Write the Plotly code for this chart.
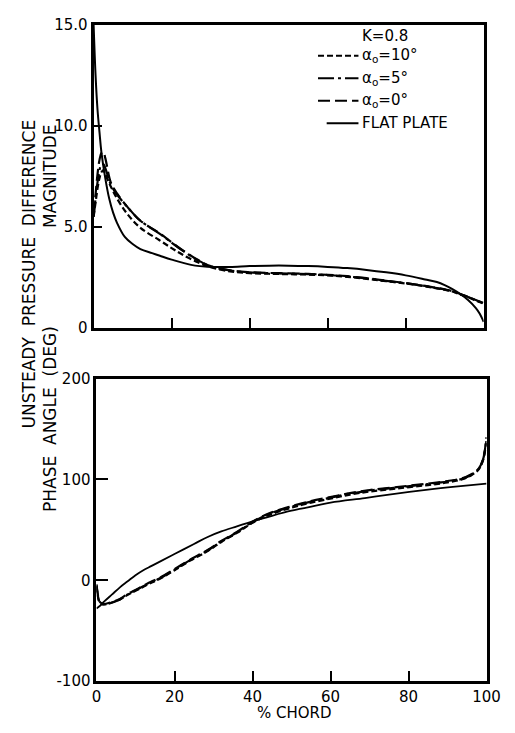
import plotly.graph_objects as go

# ---------------- data ----------------
# Magnitude panel
mag_x_fp = [0, 0.5, 1.0, 1.5, 2.0, 3.0, 4.0, 5.0, 6.0, 8.0, 10, 12, 15, 17, 20, 25, 30, 35, 40, 45, 50,
            55, 60, 65, 70, 75, 80, 85, 88, 90, 92, 94, 96, 98, 99, 100]
mag_fp = [15.0, 12.5, 10.8, 9.7, 8.7, 7.4, 6.4, 5.7, 5.2, 4.5, 4.15, 3.9, 3.7, 3.57, 3.38, 3.12, 3.02, 3.02,
          3.06, 3.08, 3.08, 3.06, 3.02, 2.96, 2.87, 2.75, 2.6, 2.4, 2.27, 2.12, 1.92, 1.68, 1.38, 0.98, 0.7, 0.3]

mag_x_af = [0, 0.5, 1.0, 1.5, 2.0, 2.5, 3.0, 4.4, 6.0, 8.6, 12, 16.8, 20, 23, 26.7, 30, 35, 40, 45, 50, 55,
            60, 65, 70, 75, 80, 85, 88, 90, 92, 94, 96, 98, 100]
mag_a10 = [5.5, 6.2, 6.9, 7.4, 7.7, 7.8, 7.6, 7.0, 6.4, 5.65, 4.95, 4.35, 3.95, 3.6, 3.25, 3.0, 2.8, 2.71,
           2.68, 2.66, 2.64, 2.6, 2.53, 2.43, 2.31, 2.2, 2.06, 1.96, 1.89, 1.8, 1.66, 1.52, 1.36, 1.2]
mag_a5 = [5.5, 6.4, 7.2, 7.8, 8.1, 8.1, 7.9, 7.1, 6.6, 6.0, 5.3, 4.68, 4.22, 3.8, 3.35, 3.05, 2.84, 2.75,
          2.71, 2.69, 2.66, 2.62, 2.55, 2.45, 2.33, 2.21, 2.07, 1.97, 1.9, 1.81, 1.67, 1.53, 1.37, 1.22]
mag_a0 = [5.6, 6.6, 7.6, 8.3, 8.65, 8.7, 8.4, 7.2, 6.65, 6.0, 5.3, 4.7, 4.24, 3.82, 3.37, 3.06, 2.85, 2.76,
          2.72, 2.7, 2.67, 2.63, 2.56, 2.46, 2.34, 2.22, 2.08, 1.98, 1.91, 1.82, 1.68, 1.54, 1.38, 1.24]

# Phase panel
ph_x_fp = [0, 1, 2, 4, 6, 8, 10, 12, 14, 16, 20, 25, 28.5, 32, 36, 40, 45, 50, 52.5, 60, 68.8, 75, 85,
           92, 100]
ph_fp = [-28, -25, -21, -14, -7, -1, 5, 10, 14, 18, 26, 36, 43, 48.5, 53.5, 58.5, 64, 69, 71, 77, 81.5,
         85, 90, 93, 96]

ph_x_af = [0, 0.3, 0.6, 1, 2, 4, 6, 8, 10, 12, 14, 16, 20, 24, 28.5, 32, 36, 40, 44, 50, 55, 60.6, 65,
           70, 77, 85, 90, 93.6, 96, 98, 99, 99.6, 100]
ph_a10 = [-6, -15, -20, -23, -24, -22, -19, -14.5, -10.5, -6.5, -2.5, 1, 10, 19.5, 29, 38, 47, 57, 64.5,
          72, 77, 81.5, 85, 88, 91, 94.5, 97, 100, 104, 110, 118, 128, 140]
ph_a5 = [-5, -14, -20, -23, -24, -22, -19, -14, -10, -6, -2, 1.5, 10.5, 20, 29.5, 38.5, 47.5, 57.5, 65.5,
         73, 78, 82.5, 86, 89, 92, 95.5, 98, 100.5, 104.5, 110.5, 118.5, 129, 141]
ph_a0 = [-4, -13, -19, -22, -23.5, -21.5, -18.5, -13.5, -9.5, -5.5, -1.5, 2, 11, 20.5, 30, 39, 48, 58, 66,
         73.5, 78.5, 83, 86.5, 89.5, 92.5, 96, 98.5, 101, 105, 111, 119, 130, 142]

mag_ticks = [0, 5, 10, 15]
mag_ticktext = ["0", "5.0", "10.0", "15.0"]
ph_ticks = [-100, 0, 100, 200]
ph_ticktext = ["-100", "0", "100", "200"]
x_ticks = [0, 20, 40, 60, 80, 100]
x_ticktext = ["0", "20", "40", "60", "80", "100"]

series = [
    ("α<sub>o</sub>=10°", "6px,3px", mag_a10, ph_a10),
    ("α<sub>o</sub>=5°", "16px,4px,3px,4px", mag_a5, ph_a5),
    ("α<sub>o</sub>=0°", "12px,5px", mag_a0, ph_a0),
]

# ---------------- figure ----------------
W, H = 515, 733
FONT = "DejaVu Sans"


def px(x):
    return x / W


def py(y):
    return 1 - y / H


fig = go.Figure()
for name, dash, m, p in series:
    fig.add_trace(go.Scatter(x=mag_x_af, y=m, mode="lines", line=dict(color="black", width=2.2, dash=dash),
                             line_shape="spline", xaxis="x", yaxis="y", showlegend=False, name=name))
    fig.add_trace(go.Scatter(x=ph_x_af, y=p, mode="lines", line=dict(color="black", width=2.2, dash=dash),
                             line_shape="spline", xaxis="x2", yaxis="y2", showlegend=False, name=name))
fig.add_trace(go.Scatter(x=mag_x_fp, y=mag_fp, mode="lines", line=dict(color="black", width=2),
                         line_shape="spline", xaxis="x", yaxis="y", showlegend=False, name="FLAT PLATE"))
fig.add_trace(go.Scatter(x=ph_x_fp, y=ph_fp, mode="lines", line=dict(color="black", width=1.8),
                         line_shape="spline", xaxis="x2", yaxis="y2", showlegend=False, name="FLAT PLATE"))

axis_common = dict(showline=True, mirror=True, linecolor="black", linewidth=3, showgrid=False,
                   zeroline=False, ticks="inside", tickcolor="black", tickwidth=2,
                   tickfont=dict(family=FONT, size=15, color="black"))

fig.update_layout(
    width=W, height=H, margin=dict(l=0, r=0, t=0, b=0),
    paper_bgcolor="white", plot_bgcolor="white", showlegend=False,
    xaxis=dict(domain=[px(92), px(497)], range=[0, 100], anchor="y", tickvals=x_ticks,
               showticklabels=False, ticklen=10, **axis_common),
    yaxis=dict(domain=[py(327), py(16)], range=[0, 15], anchor="x", tickvals=mag_ticks,
               ticktext=mag_ticktext, ticklen=8, **axis_common),
    xaxis2=dict(domain=[px(95), px(500)], range=[0, 100], anchor="y2", tickvals=x_ticks,
                ticktext=x_ticktext, ticklen=10, **axis_common),
    yaxis2=dict(domain=[py(689), py(379)], range=[-100, 200], anchor="x2", tickvals=ph_ticks,
                ticktext=ph_ticktext, ticklen=12, **axis_common),
)

tfont = dict(family=FONT, size=15, color="black")
titlefont = dict(family=FONT, size=17, color="black")
ann = []
ann.append(dict(text="UNSTEADY  PRESSURE  DIFFERENCE", x=px(25), y=py(272), textangle=-90, font=titlefont))
ann.append(dict(text="MAGNITUDE", x=px(46), y=py(171), textangle=-90, font=titlefont))
ann.append(dict(text="PHASE  ANGLE  (DEG)", x=px(46), y=py(420), textangle=-90, font=titlefont))
ann.append(dict(text="% CHORD", x=px(301), y=py(722), font=tfont))
ann.append(dict(text="K=0.8", x=px(395), y=py(28), font=tfont))

legend_rows = [(48, series[0][0], series[0][1], 325), (71, series[1][0], series[1][1], 325),
               (94, series[2][0], series[2][1], 325), (117, "FLAT PLATE", "solid", 334)]
shapes = []
for yy, label, dash, x0 in legend_rows:
    shapes.append(dict(type="line", xref="paper", yref="paper", x0=px(x0), x1=px(367), y0=py(yy), y1=py(yy),
                       line=dict(color="black", width=2, dash=dash)))
    ann.append(dict(text=label, x=px(369), y=py(yy), xanchor="left", font=tfont))

for a in ann:
    a.setdefault("xanchor", "center")
    a.update(xref="paper", yref="paper", showarrow=False, yanchor="middle")
fig.update_layout(annotations=ann, shapes=shapes)

fig.write_html("out.html")
